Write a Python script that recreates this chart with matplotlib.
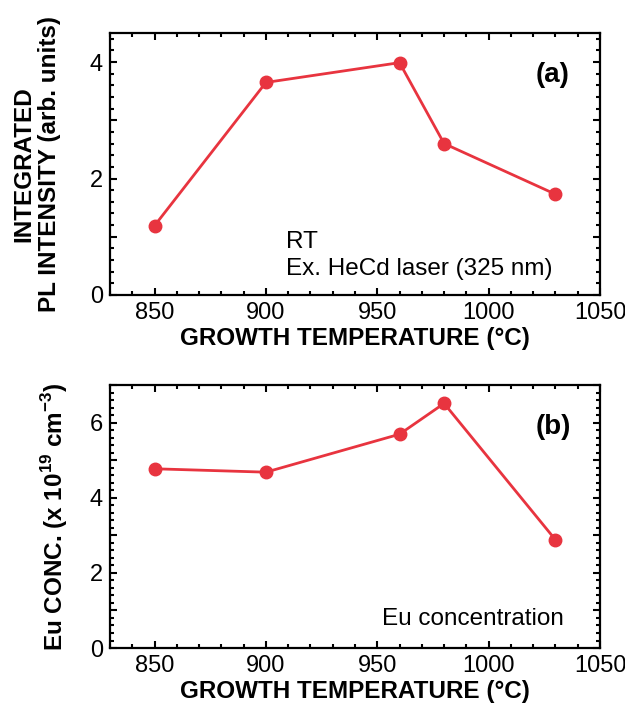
import matplotlib
matplotlib.use("Agg")
from matplotlib import pyplot as plt
from matplotlib.ticker import MultipleLocator, FuncFormatter

# growth temperature (C)
temp_pl = [850, 900, 960, 980, 1030]
# integrated PL intensity (arb. units)
pl_intensity = [1.19, 3.65, 3.99, 2.60, 1.73]

temp_eu = [850, 900, 960, 980, 1030]
# Eu concentration (x 10^19 cm^-3)
eu_conc = [4.77, 4.68, 5.69, 6.51, 2.88]

plt.rcParams['font.family'] = ['Liberation Sans', 'DejaVu Sans']
plt.rcParams['mathtext.fontset'] = 'custom'
plt.rcParams['mathtext.rm'] = 'Liberation Sans:bold'
plt.rcParams['mathtext.bf'] = 'Liberation Sans:bold'

red = '#e8343f'


def even_only(v, pos):
    if abs(v - round(v)) < 1e-6 and int(round(v)) % 2 == 0:
        return '%d' % round(v)
    return ''


def style_axes(ax, ytop):
    ax.set_xlim(830, 1050)
    ax.set_ylim(0, ytop)
    ax.xaxis.set_major_locator(MultipleLocator(50))
    ax.xaxis.set_minor_locator(MultipleLocator(10))
    ax.yaxis.set_major_locator(MultipleLocator(1))
    ax.yaxis.set_minor_locator(MultipleLocator(0.2))
    ax.yaxis.set_major_formatter(FuncFormatter(even_only))
    ax.tick_params(which='both', direction='in', top=True, right=True, width=1.5, labelsize=17)
    ax.tick_params(which='major', length=5, pad=5)
    ax.tick_params(which='minor', length=3)
    for s in ax.spines.values():
        s.set_linewidth(1.6)
    ax.set_xlabel('GROWTH TEMPERATURE (°C)', fontsize=17.5, fontweight='bold', labelpad=2)


fig = plt.figure(figsize=(6.25, 7.09), dpi=100)

ax1 = fig.add_axes([0.176, 0.584, 0.784, 0.3695])
ax1.plot(temp_pl, pl_intensity, '-o', color=red, lw=2, ms=9)
style_axes(ax1, 4.5)
ax1.set_ylabel('INTEGRATED\nPL INTENSITY (arb. units)', fontsize=17.5, fontweight='bold', labelpad=21, linespacing=1.15)
ax1.text(0.36, 0.18, 'RT', transform=ax1.transAxes, fontsize=17.5, va='baseline')
ax1.text(0.36, 0.076, 'Ex. HeCd laser (325 nm)', transform=ax1.transAxes, fontsize=17.5, va='baseline')
ax1.text(0.904, 0.84, '(a)', transform=ax1.transAxes, fontsize=20, fontweight='bold', ha='center', va='center')

ax2 = fig.add_axes([0.176, 0.086, 0.784, 0.371])
ax2.plot(temp_eu, eu_conc, '-o', color=red, lw=2, ms=9)
style_axes(ax2, 7)
ax2.set_ylabel(r'Eu CONC. (x 10$^{19}$ cm$^{-3}$)', fontsize=17.5, fontweight='bold', labelpad=14)
ax2.text(0.927, 0.087, 'Eu concentration', transform=ax2.transAxes, fontsize=17.5, ha='right', va='baseline')
ax2.text(0.904, 0.84, '(b)', transform=ax2.transAxes, fontsize=20, fontweight='bold', ha='center', va='center')

plt.savefig('out.png', dpi=100)
